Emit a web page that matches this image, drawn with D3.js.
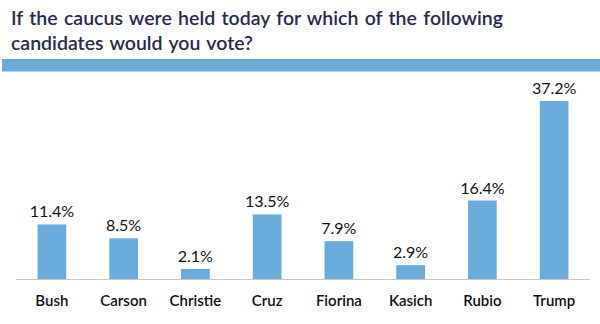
<!DOCTYPE html>
<html>
<head>
<meta charset="utf-8">
<script src="https://cdn.jsdelivr.net/npm/d3@7"></script>
<style>
  html, body { margin: 0; padding: 0; background: #fff; }
  svg { display: block; }
</style>
</head>
<body>
<svg id="chart" width="600" height="324"></svg>
<script>
const candidates = ["Bush", "Carson", "Christie", "Cruz", "Fiorina", "Kasich", "Rubio", "Trump"];
const votePct = [11.4, 8.5, 2.1, 13.5, 7.9, 2.9, 16.4, 37.2];
const titleLines = ["If the caucus were held today for which of the following", "candidates would you vote?"];

const svg = d3.select("#chart");
const W = 600;
const font = "Lato, 'Noto Sans', sans-serif";

// Title, two lines
svg.append("g").selectAll("text").data(titleLines).join("text")
  .attr("x", 11)
  .attr("y", (d, i) => 25 + i * 25)
  .attr("font-family", font)
  .attr("font-size", 19.5)
  .attr("font-weight", 600)
  .attr("fill", "#27294f")
  .attr("word-spacing", 1.5)
  .text(d => d);

// Blue divider band under the title
svg.append("rect")
  .attr("x", 2).attr("y", 59).attr("width", W - 2).attr("height", 12.5)
  .attr("fill", "#6aaad9");

const baseline = 279;
const x = d3.scaleBand().domain(candidates).range([16, 590]).paddingInner(0.6).paddingOuter(0.3);
const y = d3.scaleLinear().domain([0, 37.2]).range([baseline, 101]);

const data = candidates.map((c, i) => ({ c, v: votePct[i] }));

svg.append("g").selectAll("rect").data(data).join("rect")
  .attr("x", d => x(d.c))
  .attr("y", d => y(d.v))
  .attr("width", x.bandwidth())
  .attr("height", d => baseline - y(d.v))
  .attr("fill", "#69acdc");

// Category axis
const axis = svg.append("g")
  .attr("transform", `translate(0,${baseline})`)
  .call(d3.axisBottom(x).tickSize(0).tickPadding(16));
axis.select(".domain").attr("stroke", "#c8c8c8").attr("stroke-width", 1.2)
  .attr("d", "M16,0.5H590");
axis.selectAll("text")
  .attr("font-family", font)
  .attr("font-size", 15)
  .attr("font-weight", 600)
  .attr("fill", "#111");

// Value labels above bars
svg.append("g").selectAll("text").data(data).join("text")
  .attr("x", d => x(d.c) + x.bandwidth() / 2)
  .attr("y", d => y(d.v) - 7)
  .attr("text-anchor", "middle")
  .attr("font-family", font)
  .attr("font-size", 16)
  .attr("fill", "#111")
  .text(d => d.v.toFixed(1) + "%");
</script>
</body>
</html>
